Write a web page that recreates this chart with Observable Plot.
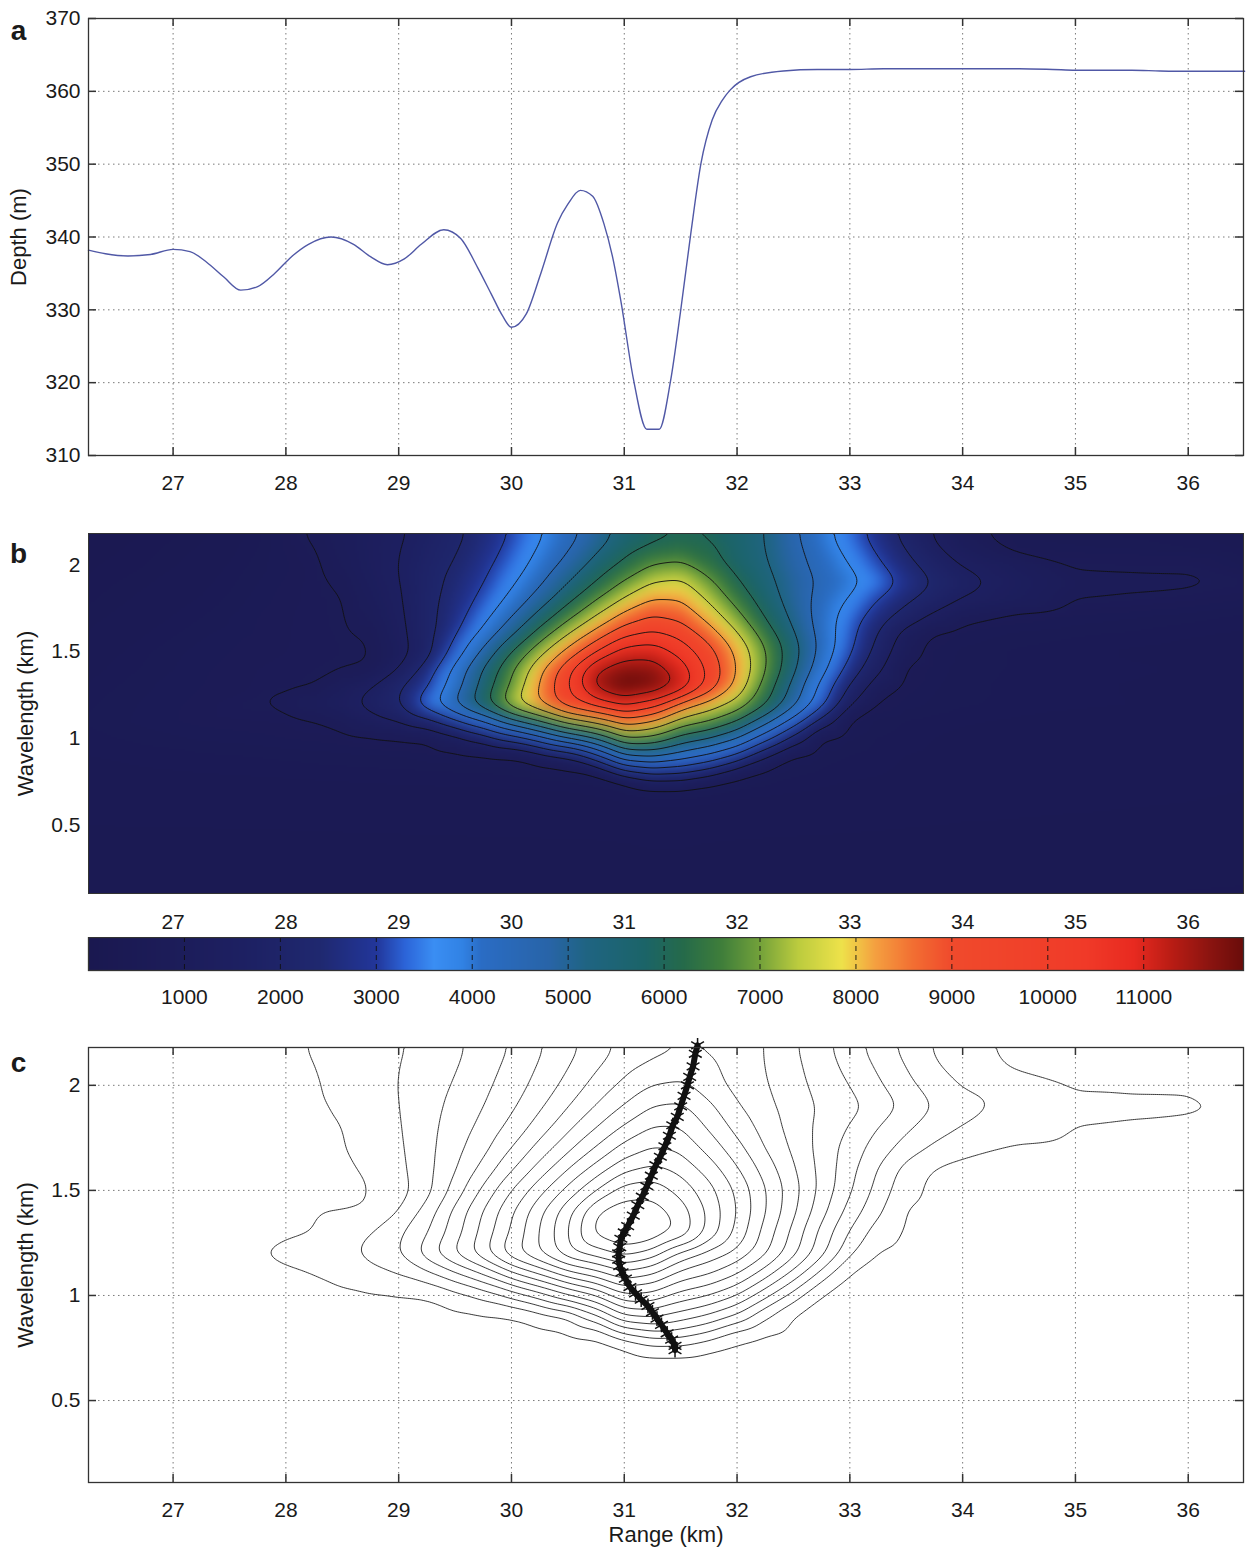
<!DOCTYPE html>
<html><head><meta charset="utf-8">
<script src="https://cdn.jsdelivr.net/npm/d3@7"></script>
<script src="https://cdn.jsdelivr.net/npm/@observablehq/plot@0.6"></script>
<style>
body{margin:0;background:#fff;}
#root{position:relative;width:1252px;height:1557px;}
#root > svg{position:absolute;left:0;}
</style></head><body><div id="root"></div>
<script>
// ---------- panel a : bathymetry ----------
const depthRange = [26.25,26.4,26.6,26.8,27.0,27.15,27.3,27.45,27.6,27.75,27.9,28.05,28.2,28.4,28.6,28.75,28.9,29.05,29.2,29.4,29.55,29.7,29.82,29.92,30.0,30.13,30.26,30.41,30.5,30.61,30.72,30.82,30.9,30.97,31.08,31.2,31.31,31.41,31.5,31.59,31.68,31.78,31.87,31.94,32.12,32.41,32.71,33.0,33.3,33.6,34.0,34.5,34.8,35.0,35.5,35.75,36.0,36.5];
const depthM = [338.2,337.7,337.4,337.6,338.3,338.0,336.5,334.5,332.7,333.2,335.0,337.3,339.0,340.0,339.0,337.3,336.2,337.0,339.0,341.0,339.8,335.8,332.2,329.2,327.6,329.4,335.0,342.0,344.5,346.4,345.6,341.8,337.0,331.2,320.6,313.6,313.6,320.2,329.9,340.5,350.1,356.1,358.8,360.2,362.0,362.8,363.0,363.0,363.1,363.1,363.1,363.1,363.0,362.9,362.9,362.8,362.75,362.75];

const xTicks = [27,28,29,30,31,32,33,34,35,36];
const depthTicks = [310,320,330,340,350,360,370];
const wlTicks = [0.5,1,1.5,2];
const cbTicks = [1000,2000,3000,4000,5000,6000,7000,8000,9000,10000,11000];

// ---------- panels b, c : wavelet power ----------
const gridRange = [26.25,26.75,27.25,27.75,28,28.25,28.5,28.75,29,29.25,29.5,29.75,30,30.25,30.5,30.75,31,31.25,31.5,31.75,32,32.25,32.5,32.75,33,33.25,33.5,33.75,34,34.5,35,35.5,36,36.5];
const gridWl = [2.2,2.1,2.0,1.9,1.8,1.7,1.6,1.5,1.4,1.3,1.2,1.1,1.0,0.9,0.8,0.75,0.7,0.6,0.4,0.1];
const p220 = [190,250,325,475,625,830,1024,1218,1413,1700,2077,2523,3035,3640,4219,4806,5450,5800,5950,5900,5650,5250,4605,3973,3322,2634,1967,1386,889,520,500,470,440,410];
const p210 = [210,275,360,500,610,740,986,1234,1475,1821,2182,2664,3206,3815,4440,5125,5741,6100,6250,6150,5700,5267,4696,4116,3514,2875,2205,1580,1129,600,560,540,500,440];
const p200 = [240,300,390,525,590,690,918,1211,1505,1904,2318,2814,3386,4041,4763,5531,6200,6772,6923,6344,5764,5335,4786,4259,3762,3138,2476,1911,1460,1046,710,700,700,540];
const p190 = [260,340,425,550,610,675,805,1142,1478,1961,2466,2988,3632,4388,5232,6051,6827,7525,7660,6923,6088,5478,4914,4402,4003,3484,2814,2225,1806,1200,865,828,813,720];
const p180 = [290,375,460,575,625,675,730,1053,1430,2006,2600,3212,3978,4891,5832,6737,7623,8320,8277,7418,6509,5686,4954,4272,3708,3010,2403,1891,1470,1110,752,710,665,600];
const p170 = [325,410,500,600,640,680,720,940,1370,2017,2732,3522,4515,5561,6577,7600,8578,9083,8864,8014,7021,5982,5102,4199,3424,2634,1926,1339,918,640,590,560,525,490];
const p160 = [360,450,540,610,645,680,710,793,1299,1994,2929,3997,5174,6349,7525,8611,9594,9970,9542,8698,7613,6441,5350,4252,3260,2216,1204,680,590,540,510,490,460,440];
const p150 = [390,490,575,625,650,675,700,730,1183,1971,3299,4676,6020,7274,8528,9734,10900,11000,10263,9325,8127,6827,5568,4280,3104,1982,961,600,540,490,460,440,420,410];
const p140 = [425,510,590,650,675,700,725,782,1505,2571,3978,5320,6665,8103,9552,11300,11700,11650,11000,9632,8277,6832,5440,4032,2729,1630,680,575,530,490,475,460,445,430];
const p130 = [460,540,600,660,690,740,1087,1505,2132,2939,4193,5537,6888,8337,9782,11550,12150,11900,11150,9568,8072,6483,5036,3512,2174,1107,640,560,520,480,460,445,430,420];
const p120 = [490,560,620,737,865,1054,1279,1731,2258,3462,4666,5832,7337,8353,9557,10159,10786,10211,8880,8029,7277,6148,4763,3258,1633,677,580,540,510,480,460,450,440,430];
const p110 = [510,570,620,650,662,730,941,1227,1505,2009,2822,3762,5019,6020,7149,7826,8729,8277,7224,6772,6020,4816,3461,1956,640,540,500,480,460,440,430,420,410,400];
const p100 = [480,520,560,580,600,617,640,677,715,745,1204,1753,2506,3386,4402,5267,6667,6524,5719,5267,4515,3258,1956,640,560,500,470,450,430,410,400,390,380,370];
const p090 = [450,470,490,505,515,525,535,545,555,587,602,640,677,1076,1505,2762,4387,4620,4139,3597,2822,1580,640,540,500,470,450,440,420,400,390,380,370,360];
const p080 = [430,440,450,460,465,470,475,480,485,490,495,500,510,530,560,640,1881,2370,2258,1783,941,602,520,490,470,455,440,430,420,400,390,380,370,360];
const p075 = [420,425,430,435,440,445,450,455,460,465,470,475,480,490,505,540,600,1279,1279,828,640,520,480,460,450,440,430,420,410,395,385,375,365,355];
const p070 = [400,405,410,415,418,420,423,426,430,433,436,440,444,448,455,470,520,560,560,540,500,480,460,445,435,425,415,405,400,390,380,370,360,350];
const p060 = [370,372,374,376,378,380,382,384,386,388,390,392,394,396,400,410,430,450,450,430,410,400,395,390,385,380,375,370,365,360,355,350,345,340];
const p040 = [330,331,332,333,334,335,336,337,338,339,340,341,342,343,344,345,350,355,355,350,345,342,340,338,336,334,332,330,328,326,324,322,320,318];
const p010 = [300,301,302,303,304,305,306,307,308,309,310,311,312,313,314,315,316,317,317,316,315,314,313,312,311,310,309,308,306,304,302,300,298,296];
const powerRows = [p220,p210,p200,p190,p180,p170,p160,p150,p140,p130,p120,p110,p100,p090,p080,p075,p070,p060,p040,p010];

// 15 contour levels
const levels = [752.5,1505,2257.5,3010,3762.5,4515,5267.5,6020,6772.5,7525,8277.5,9030,9782.5,10535,11287.5];

// ridge (maximum of each wavelength row) in panel c
const ridgeWl = [2.19,2.15,2.09,2.04,2.0,1.95,1.9,1.85,1.81,1.76,1.71,1.66,1.62,1.57,1.52,1.47,1.43,1.38,1.33,1.3,1.27,1.23,1.2,1.17,1.14,1.11,1.08,1.04,1.01,0.98,0.95,0.92,0.89,0.86,0.82,0.79,0.76,0.74];
const ridgeRange = [31.65,31.63,31.61,31.58,31.56,31.53,31.5,31.47,31.43,31.4,31.36,31.32,31.28,31.24,31.2,31.16,31.12,31.08,31.03,31.0,30.97,30.96,30.95,30.95,30.96,30.98,31.01,31.05,31.1,31.15,31.21,31.25,31.29,31.33,31.38,31.42,31.45,31.45];

// colour map of the colour bar
const cbMax = 12040;
const cmapValues = [0,800,1600,2400,3000,3300,3600,3900,4100,4800,5200,5800,6200,6600,7000,7400,7850,8200,8600,9000,10400,10900,11300,11700,12040];
const cmapColors = ["#1a1850","#1c1c58","#1d2062","#1f286f","#22369a","#2c64d8","#3a8ef4","#3182e4","#2a6cc4","#2864a8","#1f6482","#1b6468","#256a4a","#3f7e3a","#73a23a","#bccc3e","#eee24a","#f4a040","#f26e32","#f04a2c","#f03a28","#e82a20","#b81c14","#8a1410","#6a0c0a"];

// ---------- build tables ----------
const depthData = depthRange.map((x, i) => ({x, y: depthM[i]}));
const field = [];
gridWl.forEach((w, i) => gridRange.forEach((r, j) => field.push({x: r, y: w, v: powerRows[i][j]})));
const ridge = ridgeWl.map((w, i) => ({x: ridgeRange[i], y: w}));

const FONT = '"Liberation Sans", Arial, Helvetica, sans-serif';
const W = 1252, ML = 88, MR = 9, PW = W - ML - MR;
const xDomain = [26.25, 36.49];
const colorScale = {type: "linear", domain: cmapValues, range: cmapColors, interpolate: "rgb", clamp: true};
const baseStyle = {fontFamily: FONT, fontSize: "21px", color: "#1a1a1a", background: "transparent"};
const gridStyle = {stroke: "#7a7a7a", strokeOpacity: 1, strokeWidth: 1, strokeDasharray: "1.5,3.5"};
const tickStyle = {stroke: "#333", strokeWidth: 1.5};
const fmt = d => String(d);
const root = document.getElementById("root");
function place(svg, top) { svg.style.top = top + "px"; root.append(svg); }

function inwardTicks(xt, yt, plotH) {
  return [
    Plot.tickX(xt, {x: d => d, insetTop: plotH - 8, ...tickStyle}),
    Plot.tickX(xt, {x: d => d, insetBottom: plotH - 8, ...tickStyle}),
    Plot.tickY(yt, {y: d => d, insetRight: PW - 8, ...tickStyle}),
    Plot.tickY(yt, {y: d => d, insetLeft: PW - 8, ...tickStyle})
  ];
}
const yLabel = (txt, dx) => Plot.text([txt], {text: d => d, frameAnchor: "left", dx, rotate: -90, textAnchor: "middle", fontSize: 22});
const letter = (txt, dy) => Plot.text([txt], {text: d => d, frameAnchor: "top-left", dx: -70, dy, textAnchor: "middle", fontSize: 28, fontWeight: "bold"});

// ---------- panel a ----------
{
  const H = 500, MT = 18, MB = 45;
  place(Plot.plot({
    width: W, height: H, marginLeft: ML, marginRight: MR, marginTop: MT, marginBottom: MB,
    x: {domain: xDomain}, y: {domain: [310, 370]},
    style: baseStyle,
    marks: [
      Plot.gridX(xTicks, gridStyle),
      Plot.gridY([320,330,340,350,360], gridStyle),
      Plot.line(depthData, {x: "x", y: "y", stroke: "#5058a6", strokeWidth: 1.4, curve: "monotone-x"}),
      Plot.frame({stroke: "#333", strokeWidth: 1.3}),
      ...inwardTicks(xTicks, depthTicks, H - MT - MB),
      Plot.axisX(xTicks, {anchor: "bottom", tickSize: 0, tickPadding: 20, label: null, tickFormat: fmt}),
      Plot.axisY(depthTicks, {anchor: "left", tickSize: 0, tickPadding: 8, label: null, tickFormat: fmt}),
      yLabel("Depth (m)", -70),
      letter("a", 2)
    ]
  }), 0);
}

// ---------- panel b ----------
{
  const H = 437, MT = 33, MB = 44;
  place(Plot.plot({
    width: W, height: H, marginLeft: ML, marginRight: MR, marginTop: MT, marginBottom: MB,
    x: {domain: xDomain}, y: {domain: [0.11, 2.18]},
    color: colorScale,
    style: baseStyle,
    marks: [
      Plot.raster(field, {x: "x", y: "y", fill: "v", interpolate: "barycentric", pixelSize: 2, blur: 3}),
      Plot.contour(field, {x: "x", y: "y", value: "v", interpolate: "barycentric", pixelSize: 2, blur: 3,
        thresholds: levels, stroke: "#111", strokeWidth: 0.9, fill: "none"}),
      Plot.frame({stroke: "#333", strokeWidth: 1}),
      Plot.axisX(xTicks, {anchor: "bottom", tickSize: 0, tickPadding: 21, label: null, tickFormat: fmt}),
      Plot.axisY(wlTicks, {anchor: "left", tickSize: 0, tickPadding: 8, label: null, tickFormat: fmt}),
      yLabel("Wavelength (km)", -63),
      letter("b", 10)
    ]
  }), 500);
}

// ---------- colour bar ----------
{
  place(Plot.plot({
    width: W, height: 73, marginLeft: ML, marginRight: MR, marginTop: 0, marginBottom: 40,
    x: {domain: [0, cbMax]}, y: {domain: [0, 1], axis: null},
    color: colorScale,
    style: baseStyle,
    marks: [
      Plot.raster({fill: (x, y) => x, x1: 0, x2: cbMax, y1: 0, y2: 1, width: 1155, height: 1}),
      Plot.ruleX(cbTicks, {stroke: "#111", strokeWidth: 0.9, strokeDasharray: "5,4"}),
      Plot.frame({stroke: "#333", strokeWidth: 1.3}),
      Plot.axisX(cbTicks, {anchor: "bottom", tickSize: 0, tickPadding: 19, label: null, tickFormat: fmt})
    ]
  }), 937);
}

// ---------- panel c ----------
{
  const H = 547, MT = 37, MB = 75;
  place(Plot.plot({
    width: W, height: H, marginLeft: ML, marginRight: MR, marginTop: MT, marginBottom: MB,
    x: {domain: xDomain}, y: {domain: [0.11, 2.18]},
    style: baseStyle,
    marks: [
      Plot.gridX(xTicks, gridStyle),
      Plot.gridY(wlTicks, gridStyle),
      Plot.contour(field, {x: "x", y: "y", value: "v", interpolate: "barycentric", pixelSize: 2, blur: 3,
        thresholds: levels, stroke: "#222", strokeWidth: 0.9, fill: "none"}),
      Plot.line(ridge, {x: "x", y: "y", stroke: "#111", strokeWidth: 6}),
      Plot.dot(ridge, {x: "x", y: "y", symbol: "asterisk", r: 7, stroke: "#111", strokeWidth: 1.5}),
      Plot.frame({stroke: "#333", strokeWidth: 1.3}),
      ...inwardTicks(xTicks, wlTicks, H - MT - MB),
      Plot.axisX(xTicks, {anchor: "bottom", tickSize: 0, tickPadding: 20, label: null, tickFormat: fmt}),
      Plot.axisY(wlTicks, {anchor: "left", tickSize: 0, tickPadding: 8, label: null, tickFormat: fmt}),
      Plot.text(["Range (km)"], {text: d => d, frameAnchor: "bottom", dy: 59, fontSize: 22}),
      yLabel("Wavelength (km)", -63),
      letter("c", 5)
    ]
  }), 1010);
}
</script></body></html>
